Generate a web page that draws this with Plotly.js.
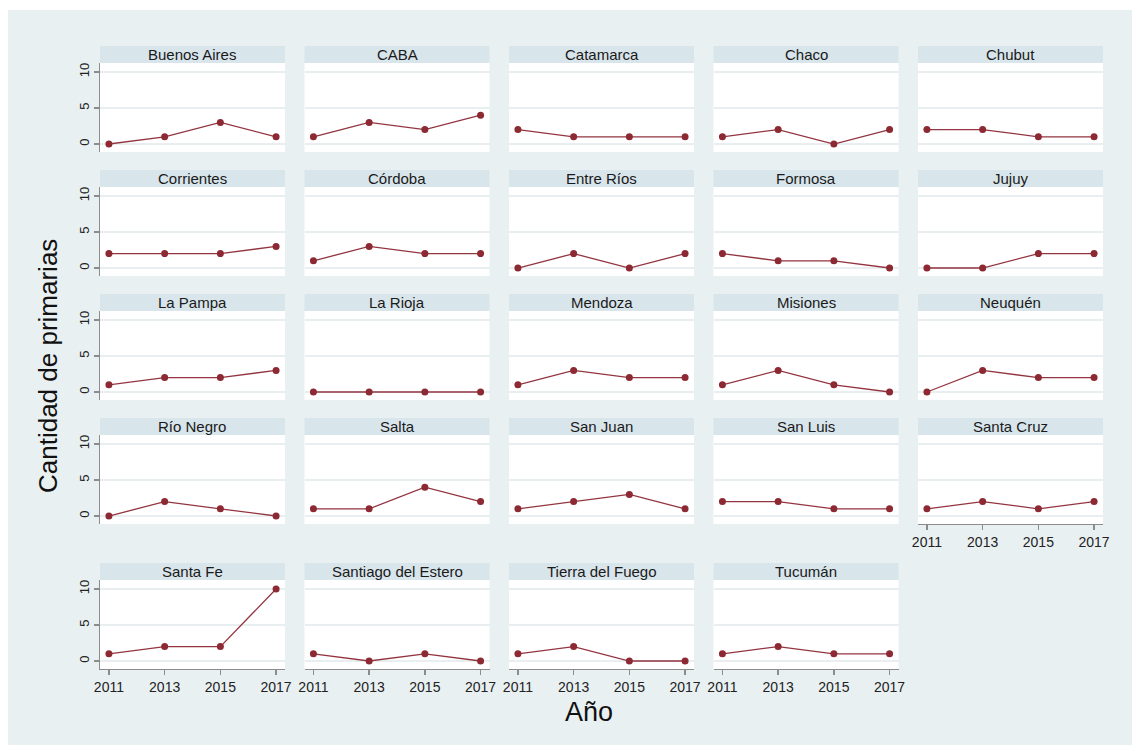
<!DOCTYPE html>
<html>
<head>
<meta charset="utf-8">
<script src="https://cdn.plot.ly/plotly-3.0.1.min.js"></script>
<style>
  html, body { margin: 0; padding: 0; background: #ffffff; }
  #chart { width: 1132px; height: 745px; }
</style>
</head>
<body>
<div id="chart"></div>
<script>
// Primary elections per province, by year
const years = [2011, 2013, 2015, 2017];
const provinces = [
  "Buenos Aires", "CABA", "Catamarca", "Chaco", "Chubut",
  "Corrientes", "Córdoba", "Entre Ríos", "Formosa", "Jujuy",
  "La Pampa", "La Rioja", "Mendoza", "Misiones", "Neuquén",
  "Río Negro", "Salta", "San Juan", "San Luis", "Santa Cruz",
  "Santa Fe", "Santiago del Estero", "Tierra del Fuego", "Tucumán"
];
const v2011 = [0, 1, 2, 1, 2,  2, 1, 0, 2, 0,  1, 0, 1, 1, 0,  0, 1, 1, 2, 1,  1, 1, 1, 1];
const v2013 = [1, 3, 1, 2, 2,  2, 3, 2, 1, 0,  2, 0, 3, 3, 3,  2, 1, 2, 2, 2,  2, 0, 2, 2];
const v2015 = [3, 2, 1, 0, 1,  2, 2, 0, 1, 2,  2, 0, 2, 1, 2,  1, 4, 3, 1, 1,  2, 1, 0, 1];
const v2017 = [1, 4, 1, 2, 1,  3, 2, 2, 0, 2,  3, 0, 2, 0, 2,  0, 2, 1, 1, 2, 10, 0, 0, 1];
const yTicks = [0, 5, 10];
const yTitle = "Cantidad de primarias";
const xTitle = "Año";

const W = 1132, H = 745;
const fx = px => px / W;
const fy = py => 1 - py / H;

const FONT = "Liberation Sans, Arial, sans-serif";
const LINE = "#933540";
const AXIS = "#8c8c8c";

const traces = [];
const layout = {
  width: W, height: H,
  margin: { l: 0, r: 0, t: 0, b: 0, pad: 0 },
  paper_bgcolor: "#e9f0f2",
  plot_bgcolor: "#ffffff",
  showlegend: false,
  font: { family: FONT, color: "#222222" },
  shapes: [
    // white frame strips along top and left
    { type: "rect", xref: "paper", yref: "paper", x0: 0, x1: 1, y0: fy(10), y1: 1,
      fillcolor: "#ffffff", line: { width: 0 }, layer: "below" },
    { type: "rect", xref: "paper", yref: "paper", x0: 0, x1: fx(8), y0: 0, y1: 1,
      fillcolor: "#ffffff", line: { width: 0 }, layer: "below" }
  ],
  annotations: []
};

provinces.forEach((name, i) => {
  const r = Math.floor(i / 5), c = i % 5;
  const x0 = 100 + c * 204.5, x1 = x0 + 185;
  const hTop = r < 4 ? 46 + r * 124 : 563;
  const pTop = hTop + 17, pBot = pTop + 89;
  const showX = r === 4 || i === 19;
  const showY = c === 0;
  const k = i === 0 ? "" : String(i + 1);

  traces.push({
    type: "scatter", mode: "lines+markers",
    x: years,
    y: [v2011[i], v2013[i], v2015[i], v2017[i]],
    xaxis: "x" + k, yaxis: "y" + k,
    line: { color: LINE, width: 1.3 },
    marker: { color: "#8c2933", size: 7 },
    hoverinfo: "x+y", cliponaxis: false
  });

  layout["xaxis" + k] = {
    domain: [fx(x0), fx(x1)],
    anchor: "y" + k,
    range: [2010.68, 2017.32],
    showgrid: false, zeroline: false,
    showline: showX, linecolor: AXIS, linewidth: 1.3,
    ticks: showX ? "outside" : "", ticklen: 5, tickcolor: AXIS, tickwidth: 1.3,
    tickvals: years, showticklabels: showX,
    tickfont: { size: 14, color: "#222222", family: FONT },
    fixedrange: true
  };
  layout["yaxis" + k] = {
    domain: [fy(pBot), fy(pTop)],
    anchor: "x" + k,
    range: [-1.11, 11.25],
    showgrid: true, gridcolor: "#e9eef1", gridwidth: 1.5,
    zeroline: false,
    showline: showY, linecolor: AXIS, linewidth: 1.3,
    ticks: showY ? "outside" : "", ticklen: 5, tickcolor: AXIS, tickwidth: 1.3,
    tickvals: yTicks, showticklabels: showY, tickangle: -90,
    tickfont: { size: 13, color: "#222222", family: FONT },
    fixedrange: true
  };

  // panel header strip
  layout.shapes.push({
    type: "rect", xref: "paper", yref: "paper",
    x0: fx(x0), x1: fx(x1), y0: fy(pTop), y1: fy(hTop),
    fillcolor: "#d8e5eb", line: { width: 0 }, layer: "below"
  });
  layout.annotations.push({
    xref: "paper", yref: "paper",
    x: fx((x0 + x1) / 2), y: fy((hTop + pTop) / 2),
    text: name, showarrow: false,
    xanchor: "center", yanchor: "middle",
    font: { size: 15, color: "#1a1a1a", family: FONT }
  });
});

// shared axis titles
layout.annotations.push({
  xref: "paper", yref: "paper", x: fx(48), y: fy(366),
  text: yTitle, textangle: -90, showarrow: false,
  xanchor: "center", yanchor: "middle",
  font: { size: 26, color: "#111111", family: FONT }
});
layout.annotations.push({
  xref: "paper", yref: "paper", x: fx(589), y: fy(712),
  text: xTitle, showarrow: false,
  xanchor: "center", yanchor: "middle",
  font: { size: 27, color: "#111111", family: FONT }
});

Plotly.newPlot("chart", traces, layout, { displayModeBar: false, staticPlot: true });
</script>
</body>
</html>
